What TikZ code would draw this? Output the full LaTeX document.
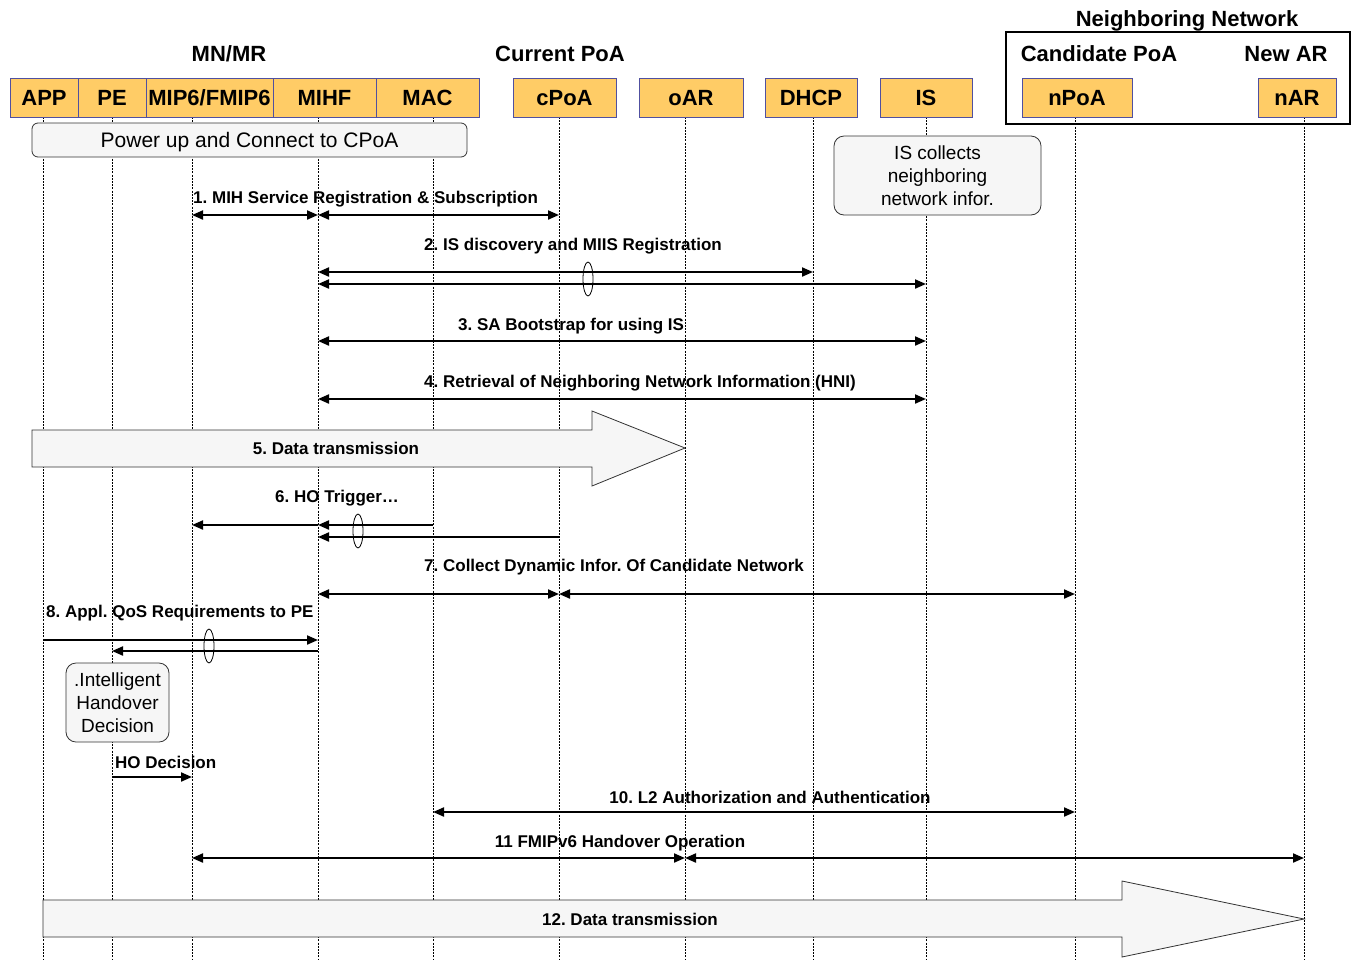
\documentclass[tikz,border=0pt]{standalone}
\usepackage{fontspec}
\setmainfont{Liberation Sans}
\usetikzlibrary{arrows.meta, positioning, calc}
\definecolor{entcol}{HTML}{FFCC66}
\definecolor{entline}{HTML}{5050A0}
\definecolor{notecol}{HTML}{F6F6F6}
\frenchspacing

\begin{document}
\begin{tikzpicture}[
  x=1pt, y=-1pt,
  >={Triangle[length=11pt, width=9pt]},
  ent/.style={draw=entline, fill=entcol, minimum height=39pt, inner sep=0pt,
              text height=16pt, text depth=0pt,
              font=\fontsize{22}{26}\selectfont\bfseries},
  hdr/.style={font=\fontsize{22}{26}\selectfont\bfseries, inner sep=0pt},
  life/.style={line width=0.8pt, dash pattern=on 2pt off 1.2pt},
  msg/.style={<->, line width=2pt},
  arr/.style={->, line width=2pt},
  lbl/.style={font=\fontsize{17}{20}\selectfont\bfseries, inner sep=0pt,
              yshift=-1.5pt},
  note/.style={draw=black!80, fill=notecol, rounded corners=10pt, align=center,
               line width=0.8pt, font=\fontsize{19}{23}\selectfont},
  bigarr/.style={draw=black!80, fill=notecol, line width=0.8pt},
  grp/.style={draw, line width=1.5pt, minimum width=344pt, minimum height=92pt}
]
\useasboundingbox (0,0) rectangle (1354,959);

%% ── Lifelines ─────────────────────────────────────────────────────────────
\foreach \n/\x in {app/43, pe/112, mip/192, mihf/318, mac/433, cpoa/559,
                   oar/685, dhcp/813, is/926, npoa/1075, nar/1304}
  \draw[life] (\x,117) coordinate (L\n) -- (\x,959);

%% ── Entities ──────────────────────────────────────────────────────────────
\node[grp] (nbr) at (1178,78) {};

\node[ent, minimum width=68pt]  (app)  at (44,97.5)    {APP};
\node[ent, minimum width=68pt]  (pe)   at (112,97.5)   {PE};
\node[ent, minimum width=127pt] (mip)  at (209.5,97.5) {MIP6/FMIP6};
\node[ent, minimum width=103pt] (mihf) at (324.5,97.5) {MIHF};
\node[ent, minimum width=103pt] (mac)  at (427.5,97.5) {MAC};
\node[ent, minimum width=103pt] (cpoa) at (564.5,97.5) {cPoA};
\node[ent, minimum width=104pt] (oar)  at (691,97.5)   {oAR};
\node[ent, minimum width=92pt]  (dhcp) at (811,97.5)   {DHCP};
\node[ent, minimum width=92pt]  (is)   at (926,97.5)   {IS};
\node[ent, minimum width=110pt] (npoa) at (1077,97.5)  {nPoA};
\node[ent, minimum width=78pt]  (nar)  at (1297,97.5)  {nAR};

\node[hdr] (mnhdr)   at (229,54)   {MN/MR};
\node[hdr] (curhdr)  at (560,54)   {Current PoA};
\node[hdr] (nbrhdr)  at (1187,20.5) {Neighboring Network};
\node[hdr] (candhdr) at (1099,54)  {Candidate PoA};
\node[hdr] (newhdr)  at (1286,54)  {New AR};

%% ── Notes ─────────────────────────────────────────────────────────────────
\node[note, minimum width=435pt, minimum height=34pt, rounded corners=6pt,
      text height=15pt, text depth=0pt,
      font=\fontsize{21}{25}\selectfont] (power) at (249.5,140)
      {Power up and Connect to CPoA};
\node[note, minimum width=207pt, minimum height=79pt, inner sep=0pt] (iscoll)
      at (937.5,175.5) {IS collects\\neighboring\\network infor.};

%% ── 1 / 2 / 3 / 4 ─────────────────────────────────────────────────────────
\coordinate (m1) at (0,215);
\node[lbl, anchor=west] (l1) at (193,198) {1. MIH Service Registration \& Subscription};
\draw[msg] (Lmip |- m1) -- (Lmihf |- m1);
\draw[msg] (Lmihf |- m1) -- (Lcpoa |- m1);

\coordinate (m2a) at (0,272);
\coordinate (m2b) at (0,284);
\node[lbl, anchor=west] (l2) at (424,245) {2. IS discovery and MIIS Registration};
\draw[msg] (Lmihf |- m2a) -- (Ldhcp |- m2a);
\draw[msg] (Lmihf |- m2b) -- (Lis |- m2b);
\draw[line width=0.8pt] (588,279) ellipse [x radius=5pt, y radius=17pt];

\coordinate (m3) at (0,341);
\node[lbl, anchor=west] (l3) at (458,325) {3. SA Bootstrap for using IS};
\draw[msg] (Lmihf |- m3) -- (Lis |- m3);

\coordinate (m4) at (0,399);
\node[lbl, anchor=west] (l4) at (424,382) {4. Retrieval of Neighboring Network Information (HNI)};
\draw[msg] (Lmihf |- m4) -- (Lis |- m4);

%% ── 5 : Data transmission ─────────────────────────────────────────────────
\draw[bigarr] (32,430) -- (592,430) -- (592,411) -- (Loar |- 0,448)
      -- (592,486) -- (592,467) -- (32,467) -- cycle;
\node[lbl] (l5) at (336,446.5) {5. Data transmission};

%% ── 6 : HO trigger ────────────────────────────────────────────────────────
\coordinate (m6a) at (0,525);
\coordinate (m6b) at (0,537);
\node[lbl, anchor=west] (l6) at (275,497) {6. HO Trigger…};
\draw[arr] (Lmac |- m6a) -- (Lmihf |- m6a);
\draw[arr] (Lmihf |- m6a) -- (Lmip |- m6a);
\draw[arr] (Lcpoa |- m6b) -- (Lmihf |- m6b);
\draw[line width=0.8pt] (358,531) ellipse [x radius=5pt, y radius=17pt];

%% ── 7 / 8 ─────────────────────────────────────────────────────────────────
\coordinate (m7) at (0,594);
\node[lbl, anchor=west] (l7) at (424,566) {7. Collect Dynamic Infor. Of Candidate Network};
\draw[msg] (Lmihf |- m7) -- (Lcpoa |- m7);
\draw[msg] (Lcpoa |- m7) -- (Lnpoa |- m7);

\coordinate (m8a) at (0,640);
\coordinate (m8b) at (0,651);
\node[lbl, anchor=west] (l8) at (46,612) {8. Appl. QoS Requirements to PE};
\draw[arr] (Lapp |- m8a) -- (Lmihf |- m8a);
\draw[arr] (Lmihf |- m8b) -- (Lpe |- m8b);
\draw[line width=0.8pt] (209,646) ellipse [x radius=5pt, y radius=17pt];

\node[note, minimum width=103pt, minimum height=79pt, inner sep=0pt] (ihd)
      at (117.5,702.5) {.Intelligent\\Handover\\Decision};

%% ── HO decision / 10 / 11 ─────────────────────────────────────────────────
\coordinate (m9) at (0,777);
\node[lbl, anchor=west] (l9) at (115,761) {HO Decision};
\draw[arr] (Lpe |- m9) -- (Lmip |- m9);

\coordinate (m10) at (0,812);
\node[lbl] (l10) at (770,796) {10. L2 Authorization and Authentication};
\draw[msg] (Lmac |- m10) -- (Lnpoa |- m10);

\coordinate (m11) at (0,858);
\node[lbl] (l11) at (620,842) {11 FMIPv6 Handover Operation};
\draw[msg] (Lmip |- m11) -- (Loar |- m11);
\draw[msg] (Loar |- m11) -- (Lnar |- m11);

%% ── 12 : Data transmission ────────────────────────────────────────────────
\draw[bigarr] (43,900) -- (1122,900) -- (1122,881) -- (Lnar |- 0,919)
      -- (1122,957) -- (1122,937) -- (43,937) -- cycle;
\node[lbl] (l12) at (630,917.5) {12. Data transmission};

\end{tikzpicture}
\end{document}
